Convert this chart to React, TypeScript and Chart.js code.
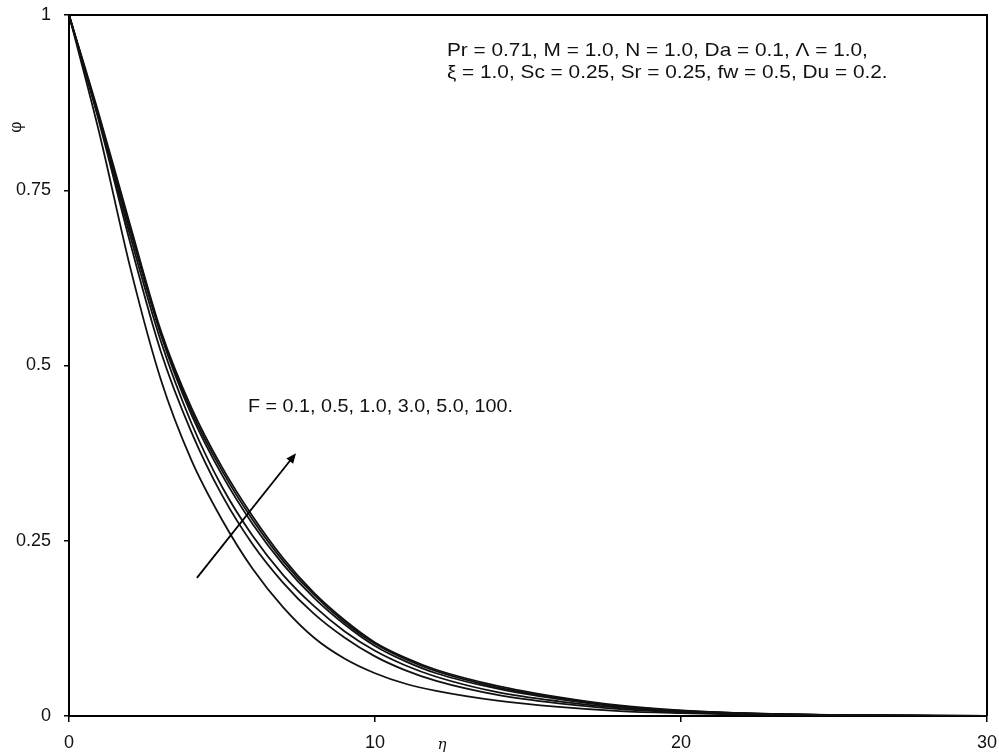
import { useEffect, useRef } from 'react';
import { Chart, registerables } from 'chart.js';

Chart.register(...registerables);

// Similarity variable η (sample positions along the boundary layer)
const etaValues = [0, 1, 2, 3, 4, 5, 6, 7, 8, 9, 10, 11, 12, 14, 16, 18, 20, 22, 25, 30];

// Concentration profiles φ(η) for each Forchheimer number F
const phiF01 = [1, 0.83, 0.64, 0.48, 0.365, 0.28, 0.21, 0.155, 0.112, 0.082, 0.061, 0.046, 0.036, 0.022, 0.013, 0.007, 0.004, 0.002, 0.0008, 0];
const phiF05 = [1, 0.845, 0.675, 0.52, 0.405, 0.315, 0.245, 0.19, 0.146, 0.112, 0.085, 0.065, 0.05, 0.03, 0.018, 0.01, 0.0055, 0.003, 0.001, 0];
const phiF1 = [1, 0.848, 0.685, 0.535, 0.418, 0.327, 0.257, 0.201, 0.157, 0.121, 0.093, 0.072, 0.056, 0.034, 0.021, 0.012, 0.0065, 0.0035, 0.0012, 0];
const phiF3 = [1, 0.85, 0.693, 0.544, 0.43, 0.344, 0.274, 0.216, 0.169, 0.131, 0.1, 0.078, 0.061, 0.039, 0.024, 0.013, 0.007, 0.0037, 0.0013, 0];
const phiF5 = [1, 0.852, 0.697, 0.547, 0.435, 0.35, 0.28, 0.221, 0.173, 0.134, 0.103, 0.081, 0.064, 0.041, 0.026, 0.014, 0.0075, 0.004, 0.0014, 0];
const phiF100 = [1, 0.855, 0.7, 0.55, 0.44, 0.355, 0.285, 0.225, 0.176, 0.137, 0.105, 0.083, 0.066, 0.043, 0.027, 0.015, 0.008, 0.004, 0.0015, 0];

const seriesNames = ['F = 0.1', 'F = 0.5', 'F = 1.0', 'F = 3.0', 'F = 5.0', 'F = 100'];
const seriesValues = [phiF01, phiF05, phiF1, phiF3, phiF5, phiF100];

const xTickValues = [0, 10, 20, 30];
const yTickValues = [0, 0.25, 0.5, 0.75, 1];

const parameterLines = [
  'Pr = 0.71, M = 1.0, N = 1.0, Da = 0.1, \u039b = 1.0,',
  '\u03be = 1.0, Sc = 0.25, Sr = 0.25, fw = 0.5, Du = 0.2.',
];
const seriesNote = 'F = 0.1, 0.5, 1.0, 3.0, 5.0, 100.';
const xTitle = '\u03b7';
const yTitle = '\u03c6';

const TEXT_FONT = '18.5px "Liberation Sans", Arial, sans-serif';

function drawStretched(ctx: CanvasRenderingContext2D, text: string, x: number, y: number, sx: number) {
  ctx.save();
  ctx.translate(x, y);
  ctx.scale(sx, 1);
  ctx.fillText(text, 0, 0);
  ctx.restore();
}

const decorations = {
  id: 'decorations',
  afterDraw(chart: any) {
    const { ctx, chartArea, scales } = chart;
    const xs = scales.x;
    const ys = scales.y;

    // top and right frame lines
    ctx.save();
    ctx.strokeStyle = '#000';
    ctx.lineWidth = 2;
    ctx.beginPath();
    ctx.moveTo(chartArea.left, chartArea.top);
    ctx.lineTo(chartArea.right, chartArea.top);
    ctx.lineTo(chartArea.right, chartArea.bottom);
    ctx.stroke();

    // arrow showing increasing F
    const x0 = xs.getPixelForValue(4.18);
    const y0 = ys.getPixelForValue(0.197);
    const x1 = xs.getPixelForValue(7.42);
    const y1 = ys.getPixelForValue(0.375);
    const ang = Math.atan2(y1 - y0, x1 - x0);
    const head = 11;
    ctx.lineWidth = 1.8;
    ctx.beginPath();
    ctx.moveTo(x0, y0);
    ctx.lineTo(x1 - Math.cos(ang) * head * 0.8, y1 - Math.sin(ang) * head * 0.8);
    ctx.stroke();
    ctx.fillStyle = '#000';
    ctx.beginPath();
    ctx.moveTo(x1, y1);
    ctx.lineTo(x1 - head * Math.cos(ang - 0.4), y1 - head * Math.sin(ang - 0.4));
    ctx.lineTo(x1 - head * Math.cos(ang + 0.4), y1 - head * Math.sin(ang + 0.4));
    ctx.closePath();
    ctx.fill();

    // parameter block and series note
    ctx.fillStyle = '#111';
    ctx.font = TEXT_FONT;
    ctx.textBaseline = 'alphabetic';
    ctx.textAlign = 'left';
    const px = xs.getPixelForValue(12.35);
    const sx1 = 421 / ctx.measureText(parameterLines[0]).width;
    drawStretched(ctx, parameterLines[0], px, ys.getPixelForValue(0.9415), sx1);
    drawStretched(ctx, parameterLines[1], px, ys.getPixelForValue(0.91), sx1);
    const sx2 = 265 / ctx.measureText(seriesNote).width;
    drawStretched(ctx, seriesNote, xs.getPixelForValue(5.85), ys.getPixelForValue(0.434), sx2);

    // axis titles
    ctx.font = 'italic 15px "DejaVu Serif", serif';
    ctx.textAlign = 'center';
    ctx.textBaseline = 'middle';
    ctx.fillText(xTitle, 442, chartArea.bottom + 29);
    ctx.save();
    ctx.translate(17, ys.getPixelForValue(0.84));
    ctx.rotate(-Math.PI / 2);
    ctx.font = '16px "DejaVu Serif", serif';
    ctx.fillText(yTitle, 0, 0);
    ctx.restore();
    ctx.restore();
  },
};

export default function App() {
  const canvasRef = useRef<HTMLCanvasElement | null>(null);

  useEffect(() => {
    if (!canvasRef.current) return;
    const chart = new Chart(canvasRef.current, {
      type: 'line',
      data: {
        datasets: seriesValues.map((vals, i) => ({
          label: seriesNames[i],
          data: etaValues.map((e, j) => ({ x: e, y: vals[j] })),
          borderColor: '#111',
          borderWidth: 1.8,
          pointRadius: 0,
          fill: false,
          cubicInterpolationMode: 'monotone' as const,
        })),
      },
      options: {
        animation: false,
        responsive: false,
        devicePixelRatio: 1,
        layout: { padding: { top: 15, right: 12, left: 0, bottom: 0 } },
        plugins: { legend: { display: false }, tooltip: { enabled: false } },
        scales: {
          x: {
            type: 'linear',
            min: 0,
            max: 30,
            afterBuildTicks: (s: any) => {
              s.ticks = xTickValues.map((v) => ({ value: v }));
            },
            afterFit: (s: any) => {
              s.height = 38;
              s.paddingLeft = 0;
              s.paddingRight = 0;
            },
            ticks: {
              color: '#111',
              font: { family: '"Liberation Sans", Arial, sans-serif', size: 18 },
              padding: 10,
              maxRotation: 0,
              callback: (v: any) => String(v),
            },
            grid: { drawOnChartArea: false, drawTicks: true, tickLength: 6, color: '#000', lineWidth: 1.5 },
            border: { display: true, color: '#000', width: 2 },
          },
          y: {
            type: 'linear',
            min: 0,
            max: 1,
            afterBuildTicks: (s: any) => {
              s.ticks = yTickValues.map((v) => ({ value: v }));
            },
            afterFit: (s: any) => {
              s.width = 69;
              s.paddingTop = 0;
              s.paddingBottom = 0;
            },
            ticks: {
              color: '#111',
              font: { family: '"Liberation Sans", Arial, sans-serif', size: 18 },
              padding: 13,
              callback: (v: any) => String(v),
            },
            grid: { drawOnChartArea: false, drawTicks: true, tickLength: 5, color: '#000', lineWidth: 1.5 },
            border: { display: true, color: '#000', width: 2 },
          },
        },
      },
      plugins: [decorations],
    });
    return () => chart.destroy();
  }, []);

  return (
    <div style={{ position: 'absolute', left: 0, top: 0, width: 999, height: 754, background: '#fff' }}>
      <canvas ref={canvasRef} width={999} height={754} />
    </div>
  );
}
